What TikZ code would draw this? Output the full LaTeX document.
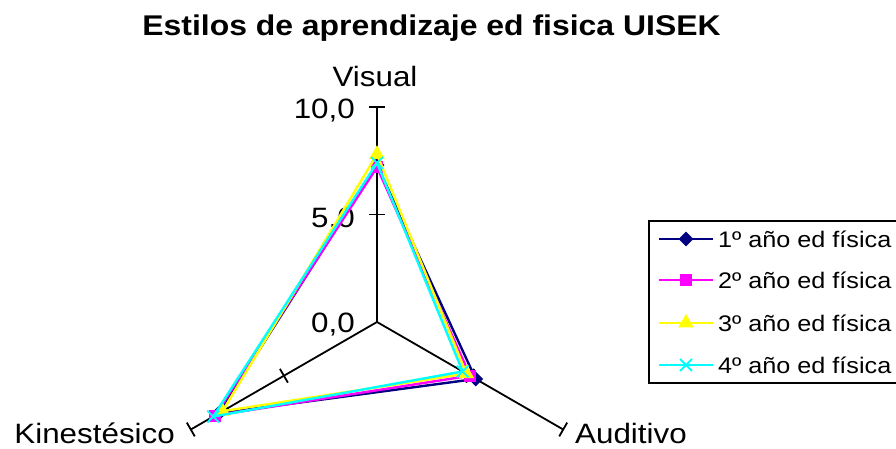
\documentclass[tikz,border=0pt]{standalone}
\usepackage{fontspec}
\setmainfont[FakeStretch=1.12]{Liberation Sans}
\usetikzlibrary{shapes.geometric,shapes.misc}
\definecolor{serieA}{HTML}{000080}
\definecolor{serieB}{HTML}{FF00FF}
\definecolor{serieC}{HTML}{FFFF00}
\definecolor{serieD}{HTML}{00FFFF}

\begin{document}
\begin{tikzpicture}[x=1pt,y=1pt]
  \tikzstyle{every node}=[inner sep=0pt, font=\fontsize{28}{30}\selectfont]
  \tikzstyle{eje}=[black, line width=1.8pt]
  \tikzstyle{serie}=[line width=2.4pt, line join=round]
  \tikzstyle{mA}=[diamond, fill=serieA, minimum size=15pt]
  \tikzstyle{mB}=[rectangle, fill=serieB, minimum size=12pt]
  \tikzstyle{mC}=[regular polygon, regular polygon sides=3, fill=serieC, minimum size=18pt]
  \tikzstyle{mD}=[cross out, draw=serieD, line width=1.8pt, minimum size=10pt]
  \useasboundingbox (0,0) rectangle (896,449);
  \node (Titulo)[anchor=base, font=\bfseries\fontsize{28.5}{30}\selectfont] at (431.5,413) {Estilos de aprendizaje ed fisica UISEK};
  \node (Visual)[anchor=base] at (375,362) {Visual};
  \node (Kines)[anchor=base east] at (175,5) {Kinestésico};
  \node (Audit)[anchor=base west] at (575,5) {Auditivo};
  \node (Diez)[anchor=base east] at (355,330) {10,0};
  \node (Cinco)[anchor=base east] at (355,221) {5,0};
  \node (Cero)[anchor=base east] at (355,116) {0,0};
  % ejes y series
  \begin{scope}[shift={(377,127)}, x=21.5pt, y=21.5pt]
    \coordinate (Centro) at (0,0);
    \foreach \ang in {90,-30,210} {
      \begin{scope}[rotate=\ang]
        \draw[eje] (Centro) -- (10,0);
        \draw[eje] (5,-0.37) -- (5,0.37);
        \draw[eje] (10,-0.37) -- (10,0.37);
      \end{scope}
    }
    \foreach \s/\c/\m/\v/\a/\k in {A/serieA/mA/7.3/5.3/8.5, B/serieB/mB/7.2/5.0/8.7,
        C/serieC/mC/7.8/4.8/8.3, D/serieD/mD/7.4/4.6/8.8} {
      \coordinate (\s-V) at (90:\v);
      \coordinate (\s-A) at (-30:\a);
      \coordinate (\s-K) at (210:\k);
      \draw[serie, draw=\c] (\s-V) -- (\s-A) -- (\s-K) -- cycle;
      \foreach \p in {V,A,K}
        \node[\m] (\s-\p-m) at (\s-\p) {};
    }
  \end{scope}
  % leyenda
  \draw[black, line width=2pt] (649,66) rectangle (905,228);
  \foreach \s/\c/\m/\y/\t in {A/serieA/mA/210/1, B/serieB/mB/169/2, C/serieC/mC/126/3, D/serieD/mD/84/4} {
    \coordinate (\s-li) at (659,\y);
    \coordinate (\s-lf) at (713,\y);
    \draw[serie, draw=\c] (\s-li) -- (\s-lf);
    \node[\m] (\s-ley) at (686,\y) {};
    \node (\s-txt)[anchor=west, font=\fontsize{22.5}{25}\selectfont] at (718,\y) {\t º año ed física};
  }
\end{tikzpicture}
\end{document}
